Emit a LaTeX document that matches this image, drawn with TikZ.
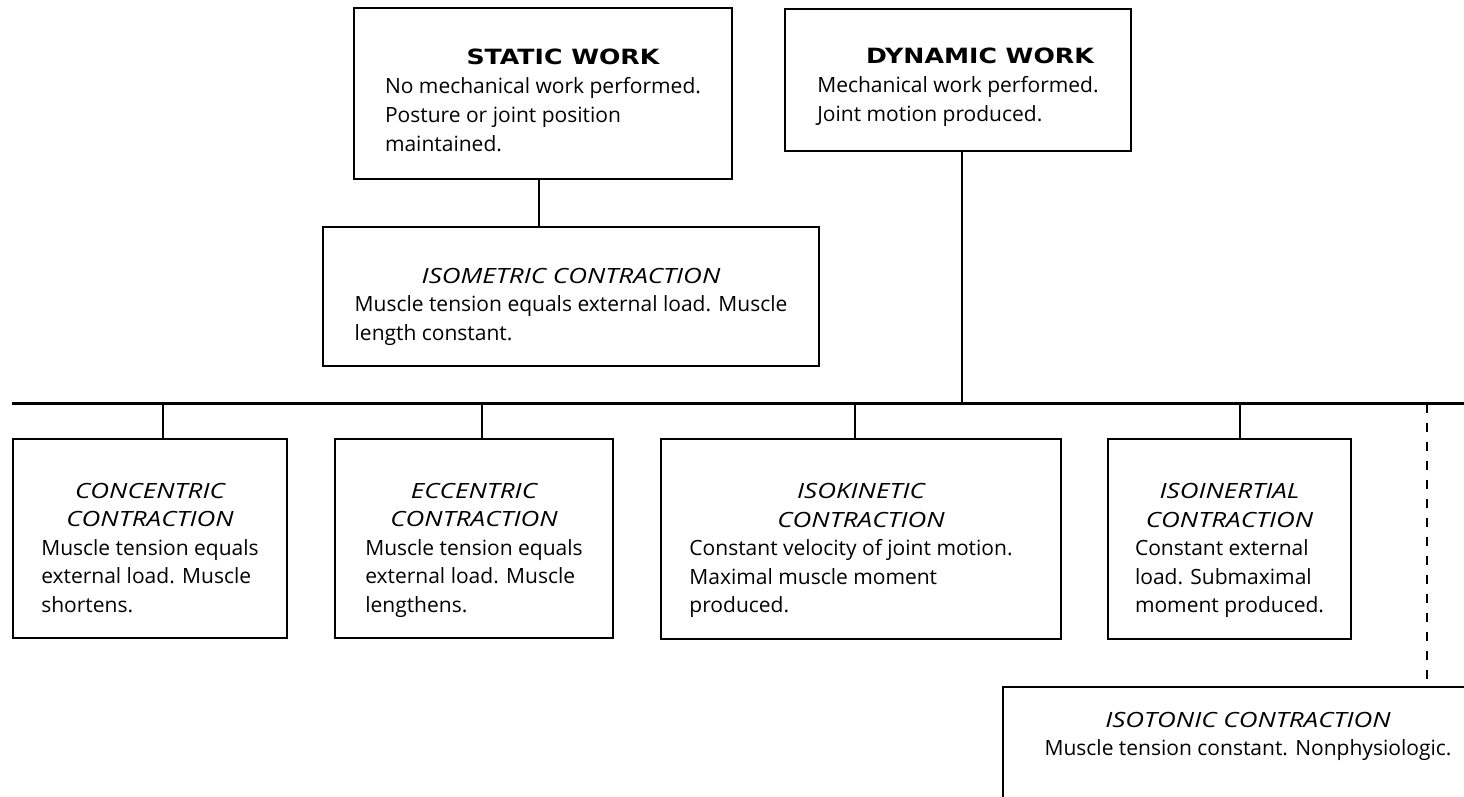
\documentclass[tikz,border=0pt]{standalone}
\usepackage{fontspec}
\setmainfont{Open Sans}
\newfontfamily\headfont{DejaVu Sans}[FakeStretch=1.2]
\newfontfamily\titlefont{Open Sans}[FakeStretch=1.24]
\usetikzlibrary{calc}
\newcommand{\boxtitle}[1]{\multicolumn{1}{@{}c@{}}{#1}}
\newcommand{\contr}[1]{{\titlefont\itshape #1}}

\begin{document}
\begin{tikzpicture}[x=1pt, y=-1pt,
    workbox/.style={draw, line width=2.8pt, inner sep=0pt,
                    font=\fontsize{21}{29}\selectfont},
    contrbox/.style={draw, line width=1.6pt, inner sep=0pt,
                     font=\fontsize{21}{28.5}\selectfont},
    link/.style={line width=2.6pt},
    bar/.style={line width=3.6pt},
    dashlink/.style={line width=1.6pt, dash pattern=on 9pt off 10pt},
  ]
    \useasboundingbox (0,0) rectangle (1464,796);

    % Work types
    \node[workbox, minimum width=378pt, minimum height=171pt] (static) at (543,93.5) {
      \begin{tabular}{@{}l@{}}
        \boxtitle{\hspace{40pt}{\headfont\bfseries STATIC WORK}}\\
        No mechanical work performed.\\
        Posture or joint position\\
        maintained.\\[-18pt]
      \end{tabular}
    };
    \node[workbox, minimum width=346pt, minimum height=142pt] (dynamic) at (958,80) {
      \begin{tabular}{@{}l@{}}
        \boxtitle{\hspace{44pt}{\headfont\bfseries DYNAMIC WORK}}\\
        Mechanical work performed.\\
        Joint motion produced.\\[-14pt]
      \end{tabular}
    };
    % Isometric
    \node[contrbox, minimum width=496pt, minimum height=139pt] (isometric) at (571,296.5) {
      \begin{tabular}{@{}l@{}}
        \boxtitle{\contr{ISOMETRIC CONTRACTION}}\\
        Muscle tension equals external load. Muscle\\
        length constant.\\[-19pt]
      \end{tabular}
    };
    % Dynamic contractions
    \node[contrbox, minimum width=274pt, minimum height=199pt] (concentric) at (150,538.5) {
      \begin{tabular}{@{}l@{}}
        \boxtitle{\contr{CONCENTRIC}}\\
        \boxtitle{\contr{CONTRACTION}}\\
        Muscle tension equals\\
        external load. Muscle\\
        shortens.\\[-22pt]
      \end{tabular}
    };
    \node[contrbox, minimum width=278pt, minimum height=199pt] (eccentric) at (474,538.5) {
      \begin{tabular}{@{}l@{}}
        \boxtitle{\contr{ECCENTRIC}}\\
        \boxtitle{\contr{CONTRACTION}}\\
        Muscle tension equals\\
        external load. Muscle\\
        lengthens.\\[-22pt]
      \end{tabular}
    };
    \node[contrbox, minimum width=400pt, minimum height=200pt] (isokinetic) at (861,539) {
      \begin{tabular}{@{}l@{\hspace{20pt}}}
        \boxtitle{\contr{ISOKINETIC}}\\
        \boxtitle{\contr{CONTRACTION}}\\
        Constant velocity of joint motion.\\
        Maximal muscle moment\\
        produced.\\[-22pt]
      \end{tabular}
    };
    \node[contrbox, minimum width=243pt, minimum height=200pt] (isoinertial) at (1229.5,539) {
      \begin{tabular}{@{}l@{}}
        \boxtitle{\contr{ISOINERTIAL}}\\
        \boxtitle{\contr{CONTRACTION}}\\
        Constant external\\
        load. Submaximal\\
        moment produced.\\[-22pt]
      \end{tabular}
    };
    \node[contrbox, minimum width=490pt, minimum height=160pt] (isotonic) at (1248,767) {
      \begin{tabular}{@{}c@{}}
        \contr{ISOTONIC CONTRACTION}\\
        Muscle tension constant. Nonphysiologic.\\[62pt]
      \end{tabular}
    };

    % Connectors
    \coordinate (barL) at (12,403.5);
    \coordinate (barR) at (1464,403.5);
    \coordinate (dashtop) at (1427,403.5);
    \draw[bar] (barL) -- (barR);
    \draw[link] ($(static.south)+(-4,0)$) -- ($(isometric.north -| static.south)+(-4,0)$);
    \draw[link] ($(dynamic.south)+(4,0)$) -- ($(dynamic.south |- barL)+(4,0)$);
    \foreach \n/\dx in {concentric/13, eccentric/8, isokinetic/-6, isoinertial/10.5}
      \draw[link] ($(\n.north)+(\dx,0)$) -- ($(\n.north |- barL)+(\dx,0)$);
    \draw[dashlink] (dashtop) -- (dashtop |- isotonic.north);
\end{tikzpicture}
\end{document}
